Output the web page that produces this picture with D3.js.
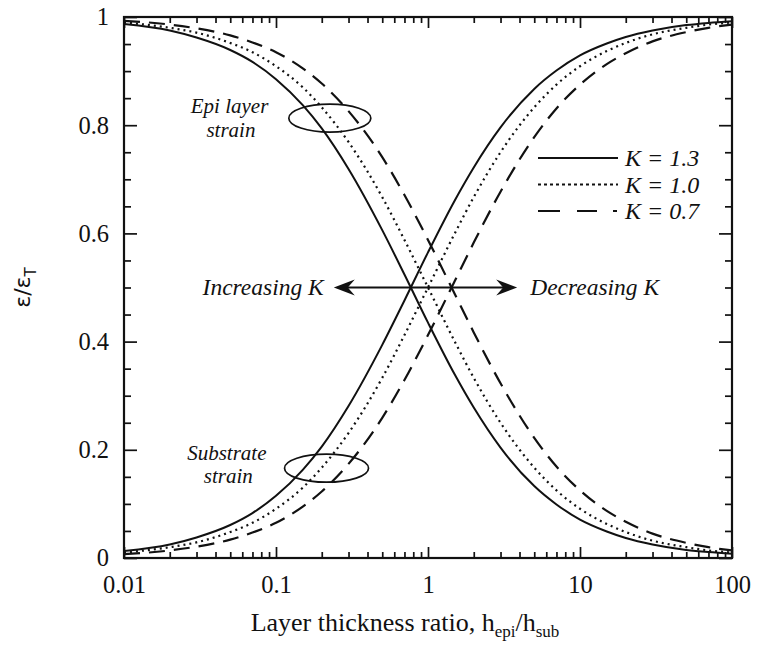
<!DOCTYPE html>
<html>
<head>
<meta charset="utf-8">
<script src="https://cdn.jsdelivr.net/npm/d3@7"></script>
<style>
  body { margin: 0; background: #fff; }
  text { fill: #111; }
</style>
</head>
<body>
<div id="viz"></div>
<script>
// thickness ratio samples (h_epi / h_sub)
const ratio = [0.01, 0.02, 0.03, 0.05, 0.07, 0.1, 0.15, 0.2, 0.3, 0.5, 0.7, 1,
  1.5, 2, 3, 5, 7, 10, 15, 20, 30, 50, 70, 100]

// epi layer strain
const epiK13 = [0.987, 0.975, 0.962, 0.939, 0.917, 0.885, 0.837, 0.794, 0.719, 0.606, 0.524, 0.435,
  0.339, 0.278, 0.204, 0.133, 0.099, 0.071, 0.049, 0.037, 0.025, 0.015, 0.011, 0.008]
const epiK10 = [0.990, 0.980, 0.971, 0.952, 0.935, 0.909, 0.870, 0.833, 0.769, 0.667, 0.588, 0.500,
  0.400, 0.333, 0.250, 0.167, 0.125, 0.091, 0.063, 0.048, 0.032, 0.020, 0.014, 0.010]
const epiK07 = [0.993, 0.986, 0.979, 0.966, 0.953, 0.935, 0.905, 0.877, 0.826, 0.741, 0.671, 0.588,
  0.488, 0.417, 0.323, 0.222, 0.169, 0.125, 0.087, 0.067, 0.045, 0.028, 0.020, 0.014]

// substrate strain
const subK13 = [0.013, 0.025, 0.038, 0.061, 0.083, 0.115, 0.163, 0.206, 0.281, 0.394, 0.476, 0.565,
  0.661, 0.722, 0.796, 0.867, 0.901, 0.929, 0.951, 0.963, 0.975, 0.985, 0.989, 0.992]
const subK10 = [0.010, 0.020, 0.029, 0.048, 0.065, 0.091, 0.130, 0.167, 0.231, 0.333, 0.412, 0.500,
  0.600, 0.667, 0.750, 0.833, 0.875, 0.909, 0.937, 0.952, 0.968, 0.980, 0.986, 0.990]
const subK07 = [0.007, 0.014, 0.021, 0.034, 0.047, 0.065, 0.095, 0.123, 0.174, 0.259, 0.329, 0.412,
  0.512, 0.583, 0.677, 0.778, 0.831, 0.875, 0.913, 0.933, 0.955, 0.972, 0.980, 0.986]

const legendLabels = ['K = 1.3', 'K = 1.0', 'K = 0.7']
const xTickLabels = ['0.01', '0.1', '1', '10', '100']
const yTickLabels = ['0', '0.2', '0.4', '0.6', '0.8', '1']

const styles = [
  {dash: null, width: 2, legendDash: null},
  {dash: '2,4', width: 2.2, legendDash: '3,3'},
  {dash: '16,9', width: 2.2, legendDash: '22,17,20,16,4,20'}
]

let dimensions = {
  width: 758,
  height: 650,
  margin: {top: 17, right: 26, bottom: 92, left: 124},
}
dimensions.boundedWidth = dimensions.width - dimensions.margin.left - dimensions.margin.right
dimensions.boundedHeight = dimensions.height - dimensions.margin.top - dimensions.margin.bottom

const wrapper = d3.select('#viz')
  .append('svg')
  .attr('width', dimensions.width)
  .attr('height', dimensions.height)

const chart = wrapper.append('g')
  .attr('transform', `translate(${dimensions.margin.left},${dimensions.margin.top})`)

const xScale = d3.scaleLog()
  .domain([0.01, 100])
  .range([0, dimensions.boundedWidth])

const yScale = d3.scaleLinear()
  .domain([0, 1])
  .range([dimensions.boundedHeight, 0])

// ticks
const decades = xTickLabels.map(d => +d)
const minorX = []
decades.slice(0, -1).forEach(d => { for (let i = 2; i < 10; i++) minorX.push(d * i) })
const majorY = yTickLabels.map(d => +d)
const minorY = d3.range(0, 1.0001, 0.05).filter(v => Math.abs(v * 5 - Math.round(v * 5)) > 1e-6)

function styleAxis(g) {
  g.select('.domain').remove()
  g.selectAll('line').attr('stroke', '#111').attr('stroke-width', 1.7)
  g.selectAll('text')
    .style('font-family', '"Liberation Serif", "Times New Roman", serif')
    .style('font-size', '24.5px')
    .style('fill', '#111')
}

chart.append('g')
  .attr('transform', `translate(0,${dimensions.boundedHeight})`)
  .call(d3.axisBottom(xScale).tickValues(decades).tickSize(-11).tickPadding(18)
    .tickFormat((d, i) => xTickLabels[i]))
  .call(styleAxis)
chart.append('g')
  .attr('transform', `translate(0,${dimensions.boundedHeight})`)
  .call(d3.axisBottom(xScale).tickValues(minorX).tickSize(-6).tickFormat(''))
  .call(styleAxis)
chart.append('g')
  .call(d3.axisTop(xScale).tickValues(decades).tickSize(-11).tickFormat(''))
  .call(styleAxis)
chart.append('g')
  .call(d3.axisTop(xScale).tickValues(minorX).tickSize(-6).tickFormat(''))
  .call(styleAxis)

chart.append('g')
  .call(d3.axisLeft(yScale).tickValues(majorY).tickSize(-13).tickPadding(15)
    .tickFormat((d, i) => yTickLabels[i]))
  .call(styleAxis)
chart.append('g')
  .call(d3.axisLeft(yScale).tickValues(minorY).tickSize(-7).tickFormat(''))
  .call(styleAxis)
chart.append('g')
  .attr('transform', `translate(${dimensions.boundedWidth},0)`)
  .call(d3.axisRight(yScale).tickValues(majorY).tickSize(-13).tickFormat(''))
  .call(styleAxis)
chart.append('g')
  .attr('transform', `translate(${dimensions.boundedWidth},0)`)
  .call(d3.axisRight(yScale).tickValues(minorY).tickSize(-7).tickFormat(''))
  .call(styleAxis)

chart.append('rect')
  .attr('width', dimensions.boundedWidth)
  .attr('height', dimensions.boundedHeight)
  .attr('fill', 'none')
  .attr('stroke', '#111')
  .attr('stroke-width', 2.2)

// curves
wrapper.append('defs').append('clipPath').attr('id', 'plot-clip')
  .append('rect')
  .attr('width', dimensions.boundedWidth)
  .attr('height', dimensions.boundedHeight)

const lineGenerator = d3.line()
  .x(d => xScale(d[0]))
  .y(d => yScale(d[1]))
  .curve(d3.curveMonotoneX)

const series = [
  {values: epiK13, style: styles[0]},
  {values: epiK10, style: styles[1]},
  {values: epiK07, style: styles[2]},
  {values: subK13, style: styles[0]},
  {values: subK10, style: styles[1]},
  {values: subK07, style: styles[2]},
]

const curves = chart.append('g').attr('clip-path', 'url(#plot-clip)')
curves.selectAll('path')
  .data(series)
  .join('path')
  .attr('d', s => lineGenerator(ratio.map((r, i) => [r, s.values[i]])))
  .attr('fill', 'none')
  .attr('stroke', '#111')
  .attr('stroke-width', s => s.style.width)
  .attr('stroke-dasharray', s => s.style.dash)

// legend
const legend = chart.append('g')
  .attr('transform', `translate(${538 - dimensions.margin.left},${158 - dimensions.margin.top})`)
legendLabels.forEach((label, i) => {
  const row = legend.append('g').attr('transform', `translate(0,${i * 26.5})`)
  row.append('line')
    .attr('x1', 0).attr('x2', 80)
    .attr('stroke', '#111')
    .attr('stroke-width', styles[i].width)
    .attr('stroke-dasharray', styles[i].legendDash)
  row.append('text')
    .attr('x', 87)
    .attr('y', 8)
    .style('font-family', '"Liberation Serif", serif')
    .style('font-style', 'italic')
    .style('font-size', '24px')
    .text(label)
})

// annotations
const italic = sel => sel
  .style('font-family', '"Liberation Serif", serif')
  .style('font-style', 'italic')
  .style('font-size', '21px')

const ann = chart.append('g')
ann.append('text').call(italic).attr('x', xScale(0.0495)).attr('y', yScale(0.822))
  .attr('text-anchor', 'middle').text('Epi layer')
ann.append('text').call(italic).attr('x', xScale(0.0505)).attr('y', yScale(0.778))
  .attr('text-anchor', 'middle').text('strain')
ann.append('text').call(italic).attr('x', xScale(0.0475)).attr('y', yScale(0.181))
  .attr('text-anchor', 'middle').text('Substrate')
ann.append('text').call(italic).attr('x', xScale(0.0485)).attr('y', yScale(0.138))
  .attr('text-anchor', 'middle').text('strain')

ann.append('ellipse')
  .attr('cx', xScale(0.226)).attr('cy', yScale(0.813))
  .attr('rx', 41).attr('ry', 14)
  .attr('fill', 'none').attr('stroke', '#111').attr('stroke-width', 1.7)
ann.append('ellipse')
  .attr('cx', xScale(0.215)).attr('cy', yScale(0.166))
  .attr('rx', 42).attr('ry', 14)
  .attr('fill', 'none').attr('stroke', '#111').attr('stroke-width', 1.7)

// double arrow
const arrowY = yScale(0.5)
const xl = xScale(0.24), xr = xScale(3.86)
ann.append('line')
  .attr('x1', xl + 10).attr('x2', xr - 10)
  .attr('y1', arrowY).attr('y2', arrowY)
  .attr('stroke', '#111').attr('stroke-width', 2)
const head = (tip, dir) => {
  const p = d3.path()
  p.moveTo(tip, arrowY)
  p.lineTo(tip + dir * 21, arrowY - 8)
  p.lineTo(tip + dir * 14, arrowY)
  p.lineTo(tip + dir * 21, arrowY + 8)
  p.closePath()
  return p.toString()
}
ann.append('path').attr('d', head(xl, 1)).attr('fill', '#111')
ann.append('path').attr('d', head(xr, -1)).attr('fill', '#111')
ann.append('text').call(italic).style('font-size', '23.5px')
  .attr('x', xl - 10).attr('y', arrowY + 7)
  .attr('text-anchor', 'end').text('Increasing K')
ann.append('text').call(italic).style('font-size', '23.5px')
  .attr('x', xr + 13).attr('y', arrowY + 7)
  .text('Decreasing K')

// axis titles
const xTitle = wrapper.append('text')
  .attr('x', 405)
  .attr('y', 631)
  .attr('text-anchor', 'middle')
  .style('font-family', '"Liberation Serif", serif')
  .style('font-size', '26px')
xTitle.append('tspan').text('Layer thickness ratio, h')
xTitle.append('tspan').attr('dy', 6).style('font-size', '17px').text('epi')
xTitle.append('tspan').attr('dy', -6).text('/h')
xTitle.append('tspan').attr('dy', 6).style('font-size', '17px').text('sub')

const yTitle = wrapper.append('text')
  .attr('transform', `translate(30,${dimensions.margin.top + yScale(0.5)}) rotate(-90)`)
  .attr('text-anchor', 'middle')
  .style('font-family', '"DejaVu Sans", sans-serif')
  .style('font-size', '22px')
yTitle.append('tspan').text('ε/ε')
yTitle.append('tspan').attr('dy', 6).style('font-size', '15px').text('T')
</script>
</body>
</html>
